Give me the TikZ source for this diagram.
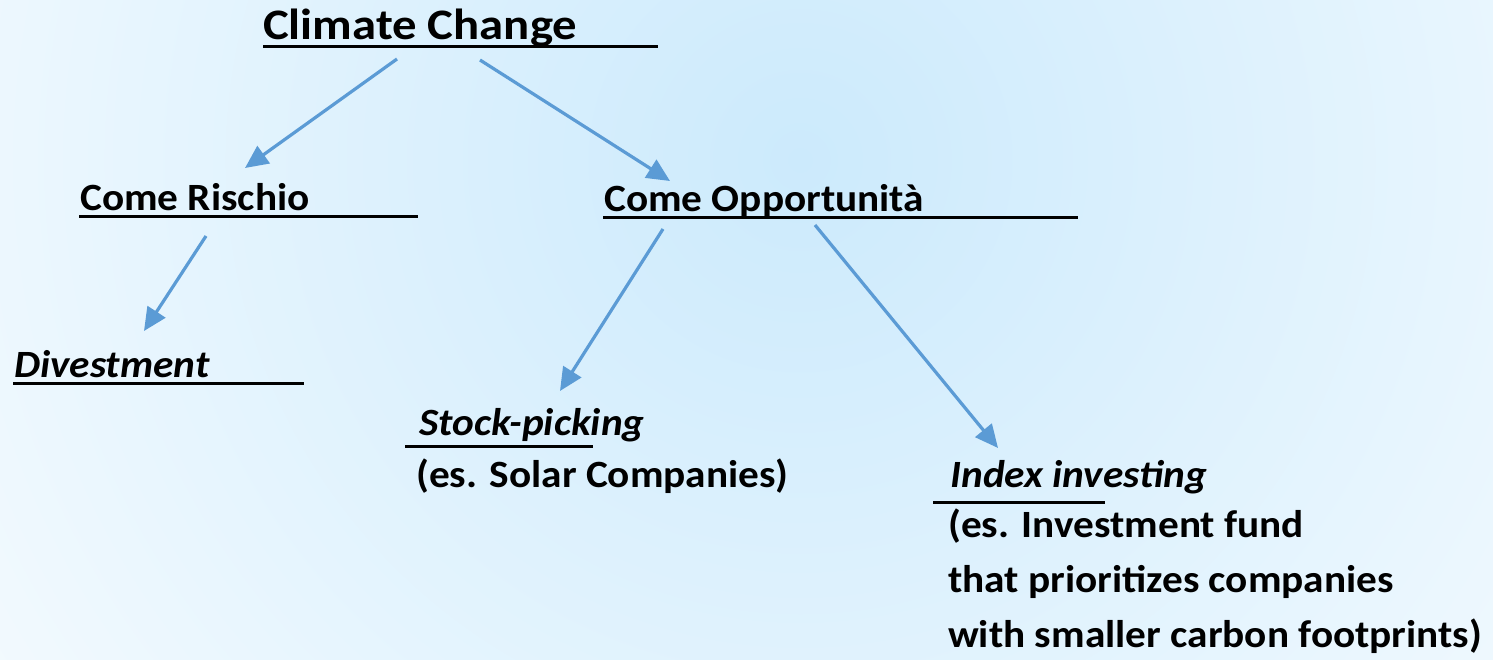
\documentclass[tikz,border=0pt]{standalone}
\usepackage{fontspec}
\setmainfont{Carlito}[FakeStretch=1.07]
\newfontfamily\titlefont{Carlito}[FakeStretch=1.12]
\usetikzlibrary{calc,arrows.meta}
\definecolor{arrowblue}{RGB}{91,155,213}
\definecolor{glow}{RGB}{204,234,252}
\definecolor{paper}{RGB}{250,253,255}
\tikzset{
  label/.style={anchor=base west,inner sep=0pt,font=\fontsize{38.6}{55}\selectfont\bfseries},
  title/.style={label,font=\fontsize{43.5}{50}\selectfont\titlefont\bfseries},
  uline/.style={line width=3pt},
  arr/.style={draw=arrowblue,line width=3.2pt,-{Triangle[length=23pt,width=21pt]}}
}
\begin{document}
\begin{tikzpicture}[x=1pt,y=1pt]
\useasboundingbox (0,0) rectangle (1493,-660);
% background glow
\begin{scope}
\clip (0,0) rectangle (1493,-660);
\fill[paper] (0,0) rectangle (1493,-660);
\shade[inner color=glow,outer color=paper] (800,-160) circle (1150);
\end{scope}

\node(cc)    [title] at (263,-40)  {Climate Change};
\node(ris)   [label] at (80,-211)  {Come Rischio};
\node(opp)   [label] at (604,-212) {Come Opportunità};
\node(div)   [label] at (14,-377)  {\itshape Divestment};
\node(stock) [label] at (419,-435) {\itshape Stock-picking};
\node(solar) [label] at (416,-487) {(es. Solar Companies)};
\node(index) [label] at (950,-487) {\itshape Index investing};
% base of a multi-line node is its last line
\node(fund)  [label,align=left] at (948,-647)
  {(es. Investment fund\\that prioritizes companies\\with smaller carbon footprints)};

% underlines
\draw[uline] (263,-47)  -- (658,-47);
\draw[uline] (79,-217)  -- (418,-217);
\draw[uline] (603,-218) -- (1078,-218);
\draw[uline] (13,-383)  -- (304,-383);
\draw[uline] (405,-446) -- (593,-446);
\draw[uline] (933,-502) -- (1105,-502);

% arrows
\draw[arr] ($(cc.base west)+(134,-19)$)  -- ($(ris.base west)+(165,43)$);
\draw[arr] ($(cc.base west)+(217,-20)$)  -- ($(opp.base west)+(66,31)$);
\draw[arr] ($(ris.base west)+(126,-25)$) -- ($(div.base west)+(130,46)$);
\draw[arr] ($(opp.base west)+(59,-17)$)  -- ($(stock.base west)+(141,44)$);
\draw[arr] ($(opp.base west)+(211,-13)$) -- ($(index.base west)+(48,39)$);
\end{tikzpicture}
\end{document}
